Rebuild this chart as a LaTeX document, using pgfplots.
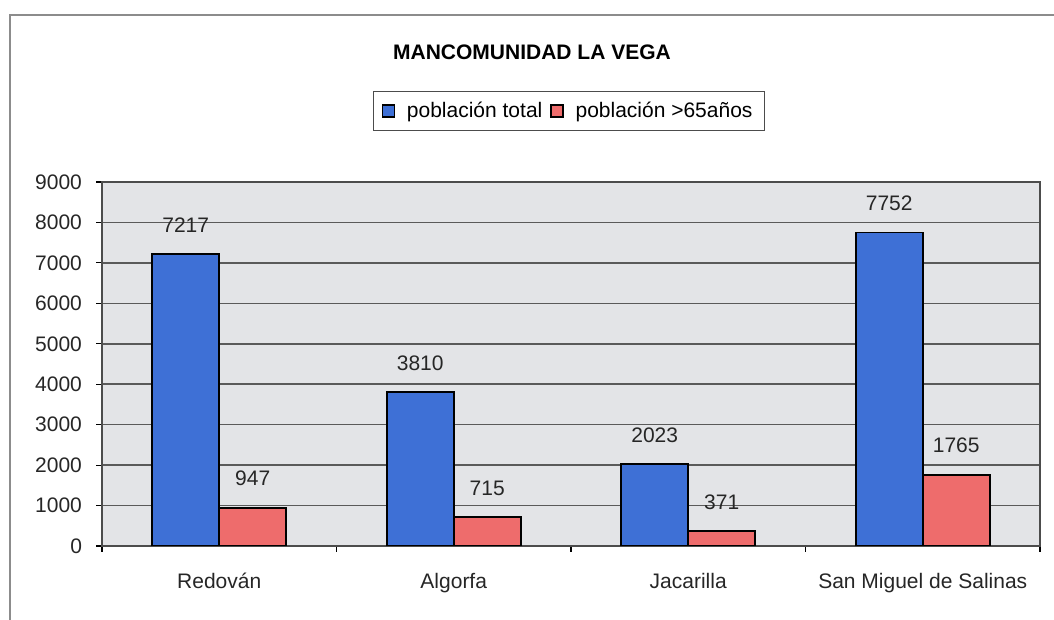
\documentclass[border=0pt]{standalone}
\usepackage{pgfplots}
\pgfplotsset{compat=1.18}
\usepackage{fontspec}
\setmainfont{Liberation Sans}
\definecolor{barblue}{RGB}{62,112,214}
\definecolor{barred}{RGB}{238,108,108}
\definecolor{plotbg}{RGB}{227,228,231}
\definecolor{gridc}{RGB}{90,90,90}
\definecolor{framec}{RGB}{140,140,140}
\begin{document}
\begin{tikzpicture}
\path[use as bounding box] (0,0) rectangle (527pt,310pt);
\draw[framec, line width=1pt] (5pt,0) -- (5pt,302.5pt) -- (527pt,302.5pt);
\node[font=\fontsize{10.5}{12}\selectfont\bfseries] at (266pt,284pt) {MANCOMUNIDAD LA VEGA};
\begin{axis}[
  at={(51pt,37pt)}, anchor=south west,
  scale only axis, width=469pt, height=182pt,
  ybar=0pt, bar width=33.5pt,
  xmin=-0.5, xmax=3.5, ymin=0, ymax=9000,
  xtick={-0.5,0.5,1.5,2.5,3.5},
  x tick label as interval,
  xticklabels={Redován,Algorfa,Jacarilla,San Miguel de Salinas},
  ytick distance=1000,
  scaled y ticks=false,
  /pgf/number format/1000 sep={},
  /pgf/number format/assume math mode=true,
  tick align=outside,
  major tick length=3pt,
  tick style={draw=black, line width=0.6pt},
  xtick pos=bottom, ytick pos=left,
  ymajorgrids, grid style={draw=gridc, line width=0.8pt},
  axis background/.style={fill=plotbg},
  axis line style={draw=gray!60!black, line width=0.6pt},
  ticklabel style={font=\fontsize{10.5}{12}\selectfont, text=black!85},
  yticklabel style={xshift=-3.5pt},
  xticklabel style={yshift=-7pt},
  nodes near coords,
  every node near coord/.append style={font=\fontsize{10.5}{12}\selectfont, text=black!85, yshift=7pt},
  legend columns=2,
  legend style={at={(0.498,1.195)}, anchor=center, draw=black!70, line width=0.6pt,
    font=\fontsize{10.5}{12}\selectfont, inner xsep=4pt, inner ysep=3pt,
    /tikz/every even column/.append style={column sep=2pt},
    /tikz/every odd column/.append style={column sep=4pt}},
  legend image code/.code={\draw[#1, line width=0.6pt] (0pt,-3pt) rectangle (6pt,3pt);},
]
\addplot[fill=barblue, draw=black, line width=0.9pt] coordinates {(0,7217) (1,3810) (2,2023) (3,7752)};
\addplot[fill=barred, draw=black, line width=0.9pt] coordinates {(0,947) (1,715) (2,371) (3,1765)};
\legend{población total, población >65años}
\end{axis}
\end{tikzpicture}
\end{document}
